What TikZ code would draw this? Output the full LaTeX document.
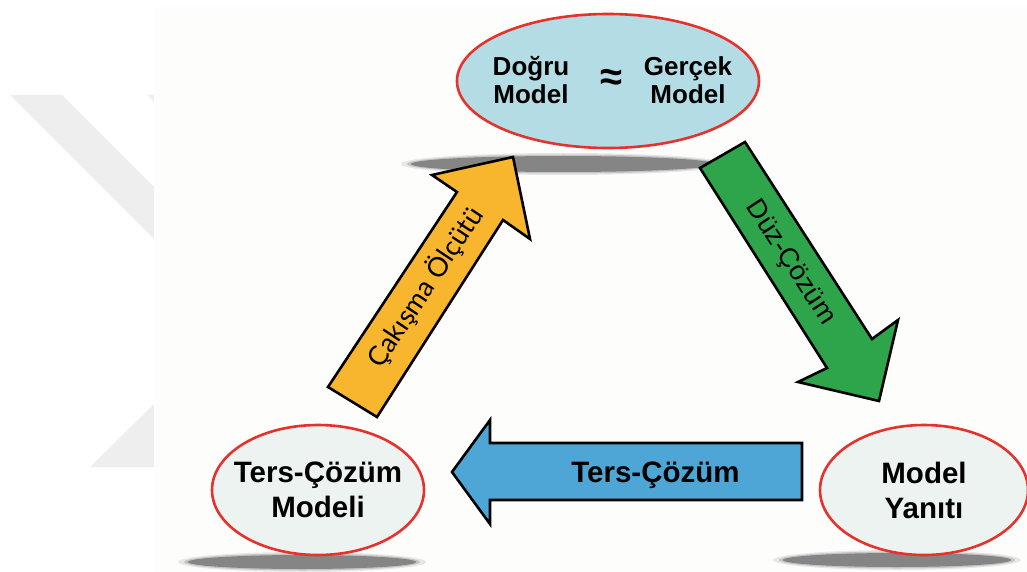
\documentclass[tikz,border=0pt]{standalone}
\usepackage{fontspec}
\setmainfont{Liberation Sans}
\newfontfamily\humanist{Lato}
\usetikzlibrary{shapes.geometric}

\definecolor{ovalred}{HTML}{E5322D}
\definecolor{topfill}{HTML}{B4DCE5}
\definecolor{lowfill}{HTML}{EDF3F0}
\definecolor{arrowyellow}{HTML}{F8B62E}
\definecolor{arrowgreen}{HTML}{2EA44B}
\definecolor{arrowblue}{HTML}{4DA6D5}
\definecolor{shadowgray}{HTML}{858585}
\definecolor{markgray}{HTML}{EEEEEE}
\definecolor{paper}{HTML}{FDFDFC}

% soft drop shadow below an oval: centre x, centre y, x radius, y radius
\newcommand\ovalshadow[4]{%
  \fill[shadowgray, opacity=0.18] (#1,#2) ellipse [x radius=#3pt+10pt, y radius=#4pt+3pt];
  \fill[shadowgray, opacity=0.35] (#1,#2) ellipse [x radius=#3pt+4pt, y radius=#4pt+1.5pt];
  \fill[shadowgray] (#1,#2) ellipse [x radius=#3pt, y radius=#4pt];
}

\begin{document}
\begin{tikzpicture}[x=1pt, y=-1pt,
  oval/.style={ellipse, draw=ovalred, line width=2.6pt, inner sep=0pt},
  ovaltext/.style={inner sep=0pt, align=center, font=\fontsize{29.5}{35}\selectfont\bfseries},
  toptext/.style={inner sep=0pt, align=center, font=\fontsize{26}{28}\selectfont\bfseries},
  blockarrow/.style={draw=black, line width=2.6pt, line join=miter},
]
% page and faint background marks
\useasboundingbox (0,0) rectangle (1027,572);
\fill[white] (0,0) rectangle (1027,572);
\fill[markgray] (10,95) -- (62,95) -- (154,187) -- (154,239) -- cycle;
\fill[markgray] (147,95) -- (154,95) -- (154,102) -- cycle;
\fill[markgray] (90,467) -- (154,404) -- (154,467) -- cycle;
\fill[paper] (154,7) rectangle (1027,572);

% shadows
\ovalshadow{563}{164}{152}{8}
\ovalshadow{302}{562}{114}{7}
\ovalshadow{897}{560}{114}{7}

% block arrows
\draw[blockarrow, fill=arrowyellow]
  (328,387) -- (457,192) -- (432,175) -- (513,157) -- (530,239) -- (503,220) -- (377,417) -- cycle;
\draw[blockarrow, fill=arrowgreen]
  (745,142) -- (872,339) -- (898,320) -- (879,401) -- (798,382) -- (827,368) -- (700,168) -- cycle;
\draw[blockarrow, fill=arrowblue]
  (802,443) -- (490,443) -- (490,420) -- (452,472) -- (490,524) -- (490,500) -- (802,500) -- cycle;

\node[inner sep=0pt, rotate=56.5, font=\humanist\fontsize{27}{30}\selectfont] (fit) at (425,287) {Çakışma Ölçütü};
\node[inner sep=0pt, rotate=-57, font=\fontsize{27}{30}\selectfont] (forward) at (790,263) {Düz-Çözüm};
\node[inner sep=0pt, anchor=base, font=\fontsize{29.5}{30}\selectfont\bfseries] (inverse) at (655.5,482) {Ters-Çözüm};

% ovals
\node[oval, fill=topfill, minimum width=302pt, minimum height=134pt] (truth) at (608,81) {};
\node[toptext] (dogru) at (531,80.5) {Doğru\\Model};
\node[inner sep=0pt, font=\fontsize{40}{40}\selectfont\bfseries] (approx) at (611,79.5) {≈};
\node[toptext] (gercek) at (688,80.5) {Gerçek\\Model};

\node[oval, fill=lowfill, minimum width=212pt, minimum height=130pt] (invmodel) at (318,490) {};
\node[ovaltext] (invmodeltext) at (invmodel.center) {Ters-Çözüm\\Modeli};
\node[oval, fill=lowfill, minimum width=208pt, minimum height=130pt] (response) at (924,490) {};
\node[ovaltext] (responsetext) at (response.center) {Model\\Yanıtı};
\end{tikzpicture}
\end{document}
